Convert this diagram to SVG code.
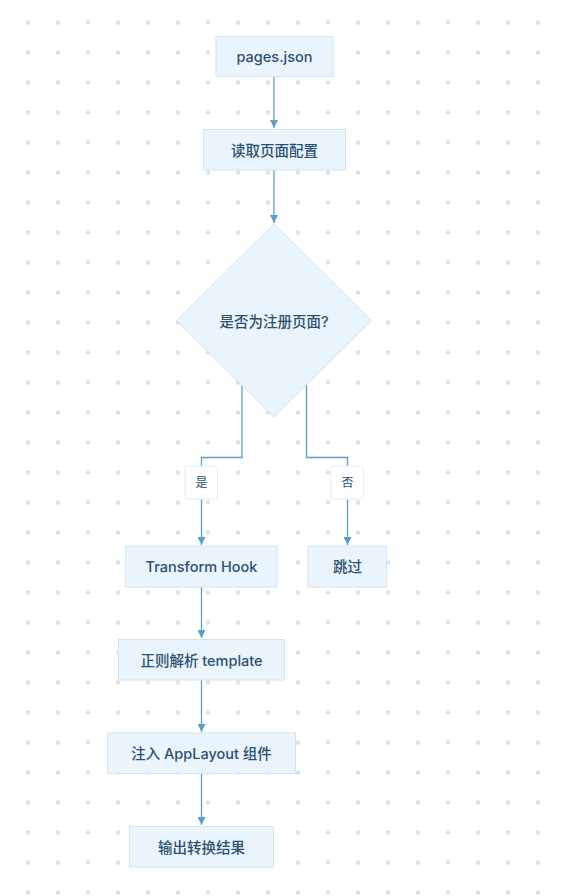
<svg xmlns="http://www.w3.org/2000/svg" width="562" height="896" viewBox="0 0 562 896">
<defs>
<pattern id="dots" x="0" y="0" width="30" height="30" patternUnits="userSpaceOnUse">
<rect x="26" y="20.5" width="4" height="4" fill="#e2e2e2"/>
</pattern>
<marker id="arr" viewBox="0 0 10 10" refX="10" refY="5" markerWidth="8" markerHeight="8" markerUnits="userSpaceOnUse" orient="auto">
<path d="M0,0 L10,5 L0,10 z" fill="#5b9fc9"/>
</marker>
<style>
.node rect, .node polygon { fill: #eaf4fd; stroke: #d3e3ef; stroke-width: 1; }
.node text { font-family: Inter, "Noto Sans", "Noto Sans CJK SC", sans-serif; font-size: 14.5px; font-weight: 500; fill: #2d5070; text-anchor: middle; dominant-baseline: central; }
.edge { fill: none; stroke: #5b9fc9; stroke-width: 1.3; }
.lbl rect { fill: #ffffff; stroke: #e6ecf1; stroke-width: 1; }
.lbl text { font-family: Inter, "Noto Sans", "Noto Sans CJK SC", sans-serif; font-size: 12px; fill: #2d5070; text-anchor: middle; dominant-baseline: central; }
</style>
</defs>
<rect width="562" height="896" fill="#ffffff"/>
<rect width="562" height="896" fill="url(#dots)"/>

<g id="connectors">
<path class="edge" d="M274,77 V128" marker-end="url(#arr)"/>
<path class="edge" d="M274,170 V223" marker-end="url(#arr)"/>
<path class="edge" d="M242,385 V457.5 H201.5 V545" marker-end="url(#arr)"/>
<path class="edge" d="M306.5,385 V457.5 H347.5 V545" marker-end="url(#arr)"/>
<path class="edge" d="M201.5,587 V638" marker-end="url(#arr)"/>
<path class="edge" d="M201.5,680 V732" marker-end="url(#arr)"/>
<path class="edge" d="M201.5,774 V825" marker-end="url(#arr)"/>
<g class="lbl" id="label-yes"><rect x="185" y="466" width="32.5" height="33" rx="3"/><text x="201.5" y="482.5">是</text></g>
<g class="lbl" id="label-no"><rect x="331" y="466" width="32.5" height="33" rx="3"/><text x="347.5" y="482.5">否</text></g>
</g>

<g class="node" id="n-pages"><rect x="216" y="36.5" width="117" height="40"/><text x="274.5" y="56.5">pages.json</text></g>
<g class="node" id="n-read"><rect x="203.5" y="129.5" width="142" height="40.5"/><text x="274.5" y="150">读取页面配置</text></g>
<g class="node" id="n-decide"><polygon points="274,224 371.5,320.5 274,417 176.5,320.5"/><text x="274" y="321">是否为注册页面?</text></g>
<g class="node" id="n-hook"><rect x="125.5" y="546" width="151.5" height="41"/><text x="201.5" y="566.5">Transform Hook</text></g>
<g class="node" id="n-skip"><rect x="308" y="546" width="78.5" height="41"/><text x="347.5" y="566.5">跳过</text></g>
<g class="node" id="n-regex"><rect x="118.5" y="639.5" width="166" height="40.5"/><text x="201.5" y="660">正则解析 template</text></g>
<g class="node" id="n-inject"><rect x="107.5" y="733" width="188" height="40.5"/><text x="201.5" y="753.5">注入 AppLayout 组件</text></g>
<g class="node" id="n-output"><rect x="129.5" y="826.5" width="144" height="40.5"/><text x="201.5" y="847">输出转换结果</text></g>
</svg>
